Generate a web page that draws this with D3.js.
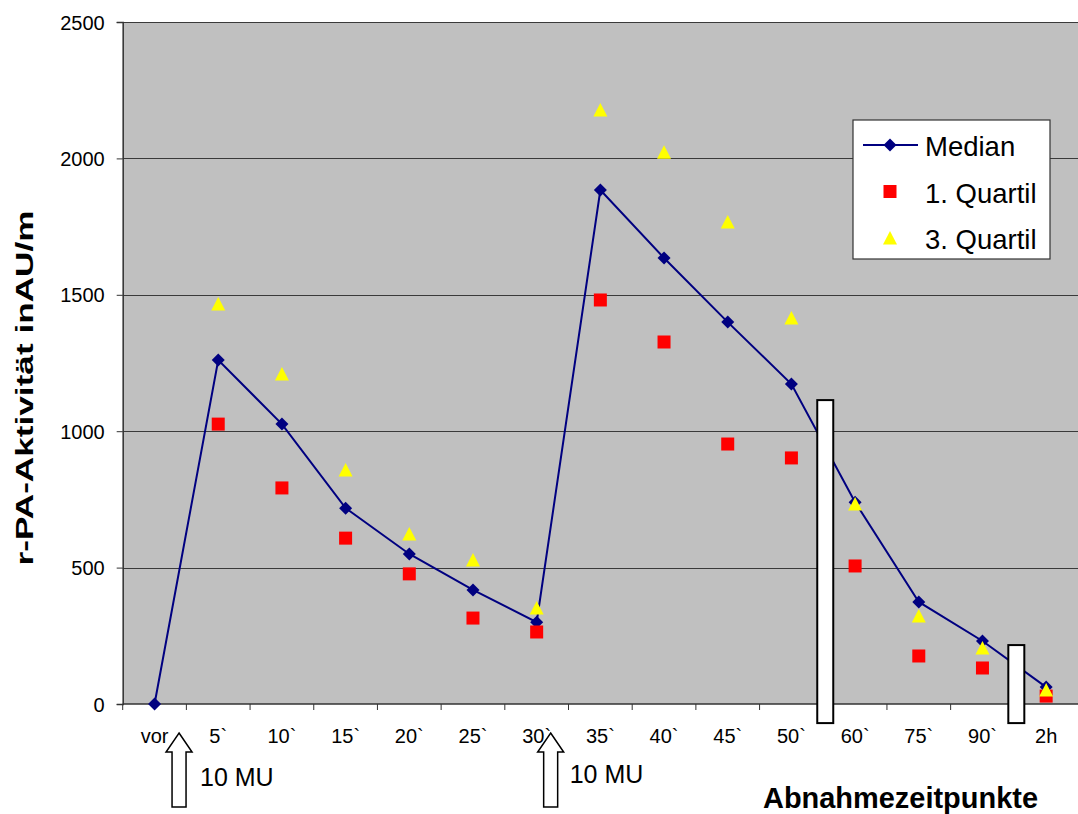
<!DOCTYPE html>
<html>
<head>
<meta charset="utf-8">
<script src="https://cdn.jsdelivr.net/npm/d3@7"></script>
<style>
  body { margin: 0; background: #fff; }
  svg { display: block; }
  text { font-family: "Liberation Sans", Arial, Helvetica, sans-serif; fill: #000; }
</style>
</head>
<body>
<svg id="chart" width="1078" height="814"></svg>
<script>
// Sampling times
const categories = ["vor", "5`", "10`", "15`", "20`", "25`", "30`", "35`", "40`", "45`", "50`", "60`", "75`", "90`", "2h"];
// r-PA activity (AU/ml) per sampling time
const median    = [0, 1261, 1026, 718, 550, 418, 300, 1884, 1635, 1400, 1173, 740, 374, 231, 62];
const quartile1 = [null, 1026, 792, 608, 477, 315, 264, 1481, 1327, 953, 902, 506, 176, 132, 29];
const quartile3 = [null, 1466, 1210, 858, 623, 528, 352, 2177, 2023, 1767, 1415, 733, 323, 205, 51];
const yTicks = [0, 500, 1000, 1500, 2000, 2500];
// 10 MU bolus given right after these samples
const doseAfter = ["vor", "30`"];
// time axis is broken after these samples
const breakAfter = ["50`", "90`"];

const svg = d3.select("#chart");
const W = 1078, H = 814;
const plot = { left: 122.7, right: 1078, top: 22, bottom: 704 };

const x = d3.scaleBand().domain(categories).range([plot.left, plot.right]).paddingInner(0).paddingOuter(0);
const bw = x.bandwidth();
const cx = c => x(c) + bw / 2;
const y = d3.scaleLinear().domain([0, 2500]).range([plot.bottom, plot.top]);

svg.append("rect").attr("width", W).attr("height", H).attr("fill", "#fff");

// plot background
svg.append("rect")
  .attr("x", plot.left).attr("y", plot.top)
  .attr("width", plot.right - plot.left).attr("height", plot.bottom - plot.top)
  .attr("fill", "#c0c0c0");

// horizontal gridlines
svg.append("g").selectAll("line").data(yTicks.filter(v => v > 0)).join("line")
  .attr("x1", plot.left).attr("x2", plot.right)
  .attr("y1", d => Math.round(y(d)) + 0.5).attr("y2", d => Math.round(y(d)) + 0.5)
  .attr("stroke", "#3a3a3a").attr("stroke-width", 1);

// y axis
const yAxis = svg.append("g")
  .attr("transform", `translate(${plot.left},0)`)
  .call(d3.axisLeft(y).tickValues(yTicks).tickSize(6).tickPadding(12).tickFormat(d3.format("d")));
yAxis.select(".domain").attr("stroke", "#333").attr("stroke-width", 1.5);
yAxis.selectAll(".tick line").attr("stroke", "#333");
yAxis.selectAll(".tick text").attr("font-size", 20).attr("dy", "0.35em")
  .style("font-family", '"Liberation Sans", Arial, sans-serif').attr("fill", "#000");

// x axis, ticks sit on category boundaries
const xAxis = svg.append("g").attr("transform", `translate(0,${plot.bottom})`);
xAxis.append("line")
  .attr("x1", plot.left).attr("x2", plot.right)
  .attr("y1", 0).attr("y2", 0)
  .attr("stroke", "#333").attr("stroke-width", 1.5);
xAxis.selectAll("line.tick").data(categories).join("line").attr("class", "tick")
  .attr("x1", d => x(d)).attr("x2", d => x(d))
  .attr("y1", 0).attr("y2", 6)
  .attr("stroke", "#333");
xAxis.selectAll("text").data(categories).join("text")
  .attr("x", d => cx(d)).attr("y", 39)
  .attr("text-anchor", "middle").attr("font-size", 20)
  .text(d => d);

// median line with diamond markers
const pts = categories.map((c, i) => ({ c, v: median[i] }));
svg.append("path").datum(pts)
  .attr("fill", "none").attr("stroke", "#000080").attr("stroke-width", 2)
  .attr("d", d3.line().x(d => cx(d.c)).y(d => y(d.v)));

const diamond = "M0,-6.5L6.5,0L0,6.5L-6.5,0Z";
svg.append("g").selectAll("path").data(pts).join("path")
  .attr("transform", d => `translate(${cx(d.c)},${y(d.v)})`)
  .attr("d", diamond).attr("fill", "#000080");

// first quartile: red squares
const q1 = categories.map((c, i) => ({ c, v: quartile1[i] })).filter(d => d.v != null);
svg.append("g").selectAll("rect").data(q1).join("rect")
  .attr("x", d => cx(d.c) - 6.5).attr("y", d => y(d.v) - 6.5)
  .attr("width", 13).attr("height", 13)
  .attr("fill", "#ff0000");

// third quartile: yellow triangles
const q3 = categories.map((c, i) => ({ c, v: quartile3[i] })).filter(d => d.v != null);
const tri = "M0,-7L7,6.5L-7,6.5Z";
svg.append("g").selectAll("path").data(q3).join("path")
  .attr("transform", d => `translate(${cx(d.c)},${y(d.v)})`)
  .attr("d", tri).attr("fill", "#ffff00");

// axis break bars
const breakTop = { "50`": 1114, "90`": 216 };
svg.append("g").selectAll("rect").data(breakAfter).join("rect")
  .attr("x", d => x(d) + bw + 2 - 8)
  .attr("y", d => y(breakTop[d]))
  .attr("width", 16)
  .attr("height", d => y(-70) - y(breakTop[d]))
  .attr("fill", "#fff").attr("stroke", "#000").attr("stroke-width", 2);

// dose arrows (offset from the sample's centre, label placement)
const arrowShift = { "vor": { dx: 24.5, ly: 53, lx: 21 }, "30`": { dx: 14, ly: 50, lx: 19 } };
const arrow = "M0,0L13,19L7,19L7,74L-7,74L-7,19L-13,19Z";
const doseG = svg.append("g").selectAll("g").data(doseAfter).join("g")
  .attr("transform", d => `translate(${cx(d) + arrowShift[d].dx},733)`);
doseG.append("path").attr("d", arrow)
  .attr("fill", "#fff").attr("stroke", "#000").attr("stroke-width", 1.5);
doseG.append("text")
  .attr("x", d => arrowShift[d].lx).attr("y", d => arrowShift[d].ly)
  .attr("font-size", 25)
  .text("10 MU");

// axis titles
svg.append("text")
  .attr("x", 763).attr("y", 808)
  .attr("font-size", 29).attr("font-weight", "bold")
  .attr("textLength", 275).attr("lengthAdjust", "spacingAndGlyphs")
  .text("Abnahmezeitpunkte");

svg.append("text")
  .attr("transform", "translate(33,388) rotate(-90)")
  .attr("text-anchor", "middle")
  .attr("font-size", 24).attr("font-weight", "bold")
  .attr("textLength", 355).attr("lengthAdjust", "spacingAndGlyphs")
  .text("r-PA-Aktivität inAU/m");

// legend
const lg = svg.append("g").attr("transform", "translate(853,120)");
lg.append("rect").attr("width", 197).attr("height", 139)
  .attr("fill", "#fff").attr("stroke", "#333").attr("stroke-width", 1.2);
const items = [
  { label: "Median", kind: "median" },
  { label: "1. Quartil", kind: "q1" },
  { label: "3. Quartil", kind: "q3" }
];
items.forEach((it, i) => {
  const ry = 25 + i * 46.5;
  if (it.kind === "median") {
    lg.append("line").attr("x1", 10).attr("x2", 65).attr("y1", ry).attr("y2", ry)
      .attr("stroke", "#000080").attr("stroke-width", 2);
    lg.append("path").attr("transform", `translate(37,${ry})`).attr("d", diamond).attr("fill", "#000080");
  } else if (it.kind === "q1") {
    lg.append("rect").attr("x", 30.5).attr("y", ry - 6.5).attr("width", 13).attr("height", 13).attr("fill", "#ff0000");
  } else {
    lg.append("path").attr("transform", `translate(37,${ry})`).attr("d", tri).attr("fill", "#ffff00");
  }
  lg.append("text").attr("x", 72).attr("y", ry + 11).attr("font-size", 27.5).text(it.label);
});
</script>
</body>
</html>
